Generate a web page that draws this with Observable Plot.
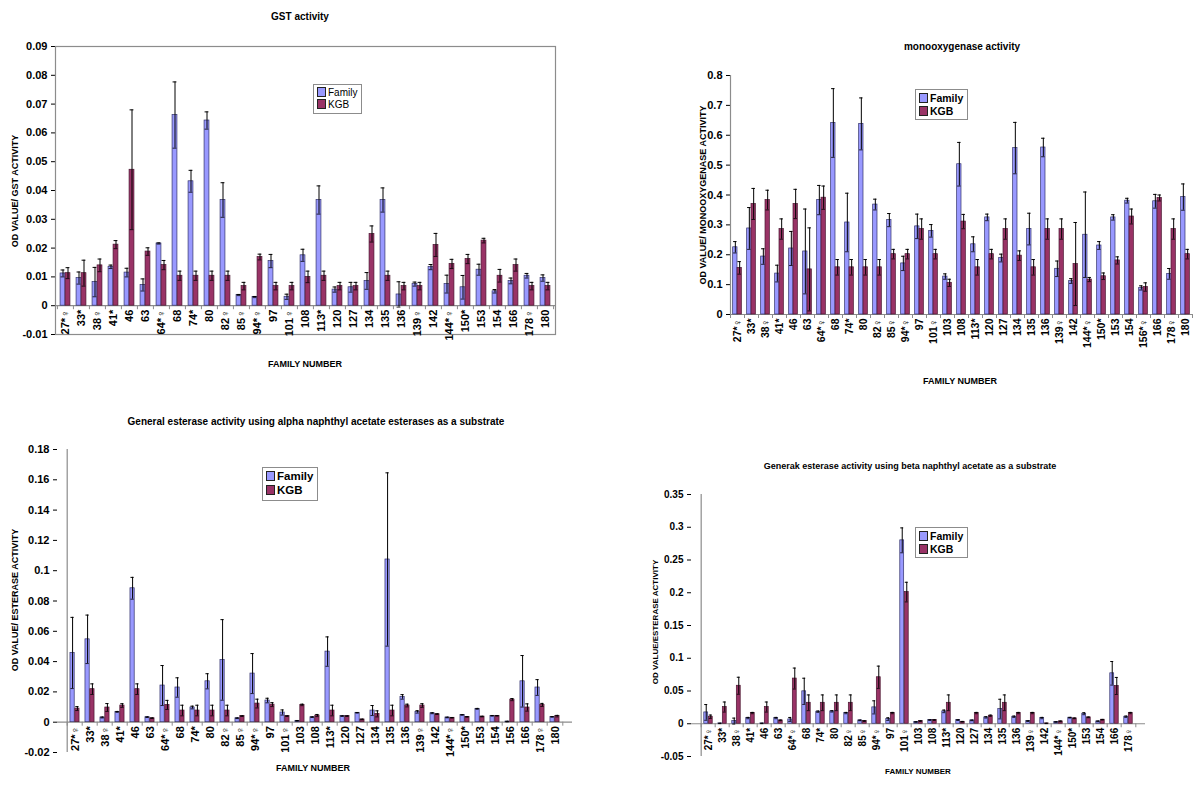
<!DOCTYPE html>
<html><head><meta charset="utf-8">
<script src="https://cdn.jsdelivr.net/npm/d3@7"></script>
<script src="https://cdn.jsdelivr.net/npm/@observablehq/plot@0.6"></script>
<style>
body{margin:0;background:#fff;font-family:"Liberation Sans",Arial,sans-serif;color:#000}
#root{position:relative;width:1200px;height:790px;overflow:hidden;background:#fff}
.abs{position:absolute;white-space:nowrap}
.title{font-weight:bold;transform:translate(-50%,-50%)}
.ytitle{font-weight:bold;transform:translate(-50%,-50%) rotate(-90deg)}
.xtitle{font-weight:bold;transform:translate(-50%,-50%)}
.legend{border:1px solid #8c8c8c;background:#fff;padding:2px 4px 2px 3px;line-height:1.2}
.sw{display:inline-block;width:7px;height:8px;border:1px solid #222;margin-right:2px;vertical-align:-1px}
svg{position:absolute}
</style></head>
<body><div id="root"></div>
<script>
// ---------- GST activity ----------
const gstCategories = ["27*♀","33*","38♀","41*","46","63","64*♀","68","74*","80","82♀","85♀","94*♀","97","101♀","108","113*","120","127","134","135","136","139♀","142","144*♀","150*","153","154","166","178♀","180"];
const gstFamily    = [0.0112,0.0096,0.0082,0.0135,0.0115,0.0072,0.0216,0.0662,0.0432,0.0643,0.0367,0.0037,0.0030,0.0155,0.0031,0.0175,0.0367,0.0056,0.0064,0.0086,0.0367,0.0039,0.0075,0.0134,0.0075,0.0064,0.0125,0.0050,0.0086,0.0104,0.0096];
const gstFamilyErr = [0.0012,0.0021,0.0051,0.0006,0.0015,0.0021,0.0002,0.0115,0.0038,0.0030,0.0060,0.0002,0.0002,0.0023,0.0009,0.0021,0.0049,0.0009,0.0017,0.0029,0.0042,0.0044,0.0007,0.0009,0.0031,0.0041,0.0019,0.0006,0.0010,0.0008,0.0011];
const gstKgb       = [0.0113,0.0113,0.0140,0.0212,0.0472,0.0188,0.0141,0.0104,0.0104,0.0104,0.0104,0.0068,0.0169,0.0068,0.0068,0.0100,0.0104,0.0068,0.0068,0.0249,0.0104,0.0068,0.0068,0.0211,0.0145,0.0162,0.0226,0.0104,0.0141,0.0068,0.0068];
const gstKgbErr    = [0.0019,0.0045,0.0022,0.0014,0.0208,0.0013,0.0016,0.0016,0.0016,0.0016,0.0016,0.0013,0.0010,0.0013,0.0013,0.0020,0.0016,0.0013,0.0013,0.0028,0.0016,0.0013,0.0013,0.0040,0.0016,0.0016,0.0008,0.0022,0.0021,0.0013,0.0013];
const gstTicks = [-0.01,0,0.01,0.02,0.03,0.04,0.05,0.06,0.07,0.08,0.09];

// ---------- monooxygenase activity ----------
const monoCategories = ["27*♀","33*","38♀","41*","46","63","64*♀","68","74*","80","82♀","85♀","94*♀","97","101♀","103","108","113*","120","127","134","135","136","139♀","142","144*♀","150*","153","154","156*♀","166","178♀","180"];
const monoFamily    = [0.225,0.288,0.194,0.137,0.221,0.211,0.383,0.641,0.308,0.638,0.368,0.316,0.171,0.295,0.280,0.127,0.503,0.235,0.325,0.189,0.557,0.286,0.559,0.153,0.112,0.267,0.231,0.325,0.381,0.089,0.379,0.136,0.393];
const monoFamilyErr = [0.019,0.070,0.026,0.028,0.057,0.142,0.049,0.115,0.098,0.087,0.018,0.022,0.024,0.041,0.021,0.009,0.073,0.025,0.011,0.013,0.086,0.053,0.031,0.026,0.008,0.143,0.013,0.009,0.008,0.007,0.023,0.018,0.044];
const monoKgb       = [0.156,0.370,0.383,0.286,0.370,0.151,0.391,0.158,0.158,0.158,0.158,0.202,0.202,0.286,0.202,0.106,0.311,0.158,0.202,0.286,0.197,0.158,0.286,0.286,0.169,0.117,0.128,0.181,0.328,0.092,0.390,0.286,0.202];
const monoKgbErr    = [0.021,0.052,0.033,0.034,0.049,0.139,0.039,0.026,0.026,0.026,0.026,0.016,0.016,0.034,0.016,0.012,0.024,0.026,0.016,0.034,0.016,0.026,0.034,0.034,0.139,0.007,0.011,0.012,0.025,0.014,0.010,0.034,0.016];
const monoTicks = [0,0.1,0.2,0.3,0.4,0.5,0.6,0.7,0.8];

// ---------- alpha naphthyl acetate esterase ----------
const alphaCategories = ["27*♀","33*","38♀","41*","46","63","64*♀","68","74*","80","82♀","85♀","94*♀","97","101♀","103","108","113*","120","127","134","135","136","139♀","142","144*♀","150*","153","154","156","166","178♀","180"];
const alphaFamily    = [0.0457,0.0547,0.0031,0.0068,0.0884,0.0033,0.0242,0.0229,0.0097,0.0270,0.0411,0.0026,0.0321,0.0143,0.0064,0.0009,0.0033,0.0466,0.0040,0.0062,0.0077,0.1074,0.0167,0.0068,0.0059,0.0031,0.0048,0.0088,0.0042,0.0004,0.0270,0.0229,0.0035];
const alphaFamilyErr = [0.0235,0.0160,0.0003,0.0003,0.0072,0.0002,0.0132,0.0064,0.0009,0.0050,0.0266,0.0002,0.0132,0.0015,0.0017,0.0002,0.0002,0.0097,0.0002,0.0002,0.0033,0.0572,0.0015,0.0008,0.0003,0.0002,0.0002,0.0003,0.0002,0.0002,0.0170,0.0052,0.0002];
const alphaKgb       = [0.0090,0.0218,0.0097,0.0110,0.0218,0.0026,0.0114,0.0077,0.0077,0.0077,0.0077,0.0040,0.0123,0.0116,0.0040,0.0114,0.0044,0.0077,0.0040,0.0018,0.0055,0.0077,0.0110,0.0110,0.0053,0.0029,0.0035,0.0037,0.0042,0.0149,0.0097,0.0114,0.0040];
const alphaKgbErr    = [0.0013,0.0035,0.0026,0.0012,0.0035,0.0002,0.0030,0.0035,0.0035,0.0035,0.0035,0.0002,0.0029,0.0013,0.0002,0.0005,0.0007,0.0035,0.0002,0.0002,0.0020,0.0035,0.0009,0.0012,0.0002,0.0002,0.0002,0.0002,0.0002,0.0007,0.0024,0.0010,0.0005];
const alphaTicks = [-0.02,0,0.02,0.04,0.06,0.08,0.1,0.12,0.14,0.16,0.18];

// ---------- beta naphthyl acetate esterase ----------
const betaCategories = ["27*♀","33*","38♀","41*","46","63","64*♀","68","74*","80","82♀","85♀","94*♀","97","101♀","103","108","113*","120","127","134","135","136","139♀","142","144*♀","150*","153","154","166","178♀"];
const betaFamily    = [0.0173,0.0005,0.0040,0.0087,0.0005,0.0087,0.0066,0.0495,0.0184,0.0189,0.0163,0.0051,0.0250,0.0071,0.280,0.0026,0.0056,0.0189,0.0056,0.0051,0.0097,0.0224,0.0107,0.0040,0.0087,0.0026,0.0092,0.0153,0.0036,0.0770,0.0107];
const betaFamilyErr = [0.012,0.0003,0.0046,0.001,0.0003,0.001,0.003,0.020,0.001,0.001,0.001,0.0005,0.010,0.002,0.019,0.0005,0.0005,0.002,0.0005,0.0005,0.001,0.015,0.001,0.0005,0.001,0.0005,0.0005,0.0015,0.0005,0.018,0.001];
const betaKgb       = [0.0107,0.0255,0.0580,0.0163,0.0255,0.0051,0.0690,0.0320,0.0320,0.0320,0.0320,0.0040,0.0710,0.0163,0.201,0.0040,0.0056,0.0320,0.0030,0.0163,0.0122,0.0320,0.0163,0.0163,0.0005,0.0036,0.0082,0.0097,0.0061,0.0577,0.0163];
const betaKgbErr    = [0.0026,0.0077,0.013,0.001,0.0077,0.0005,0.016,0.012,0.012,0.012,0.012,0.0005,0.017,0.001,0.015,0.0005,0.0005,0.012,0.0005,0.001,0.001,0.012,0.001,0.001,0.0003,0.0005,0.0005,0.0005,0.0005,0.013,0.001];
const betaTicks = [-0.05,0,0.05,0.1,0.15,0.2,0.25,0.3,0.35];

const seriesNames = ["Family","KGB"];
const seriesColors = ["#9999ff","#993366"];
const seriesStrokes = ["#33336b","#4a1630"];

const panels = [
  {title:"GST activity", ytitle:"OD VALUE/ GST ACTIVITY",
   cats:gstCategories, fam:gstFamily, famErr:gstFamilyErr, kgb:gstKgb, kgbErr:gstKgbErr,
   ticks:gstTicks, domain:[-0.01,0.09], frame:true,
   svg:{left:0, top:30, width:600, height:360}, margin:{l:55, r:45, t:16, b:56},
   titlePos:[300,16], ytitlePos:[15,191], xtitlePos:[305,364], legendPos:[313,84],
   fs:{title:10, ytitle:9, xtitle:9, tick:11, cat:11, legend:10}, legendBold:false},
  {title:"monooxygenase activity", ytitle:"OD VALUE/ MONOOXYGENASE ACTIVITY",
   cats:monoCategories, fam:monoFamily, famErr:monoFamilyErr, kgb:monoKgb, kgbErr:monoKgbErr,
   ticks:monoTicks, domain:[0,0.8], frame:false,
   svg:{left:600, top:60, width:600, height:330}, margin:{l:130, r:8, t:15, b:76},
   titlePos:[962,46], ytitlePos:[703,195], xtitlePos:[960,381], legendPos:[915,89],
   fs:{title:10, ytitle:9, xtitle:9, tick:11, cat:10.5, legend:10.5}, legendBold:true},
  {title:"General esterase activity using alpha naphthyl acetate esterases as a substrate", ytitle:"OD VALUE/ ESTERASE ACTIVITY",
   cats:alphaCategories, fam:alphaFamily, famErr:alphaFamilyErr, kgb:alphaKgb, kgbErr:alphaKgbErr,
   ticks:alphaTicks, domain:[-0.02,0.18], frame:false,
   svg:{left:0, top:435, width:600, height:340}, margin:{l:57, r:28, t:14, b:23},
   titlePos:[316,421], ytitlePos:[15,600], xtitlePos:[313,768], legendPos:[262,467],
   fs:{title:10, ytitle:9, xtitle:9, tick:11, cat:11, legend:11.5}, legendBold:true},
  {title:"Generak esterase activity using beta naphthyl acetate as a substrate", ytitle:"OD VALUE/ESTERASE ACTIVITY",
   cats:betaCategories, fam:betaFamily, famErr:betaFamilyErr, kgb:betaKgb, kgbErr:betaKgbErr,
   ticks:betaTicks, domain:[-0.05,0.35], frame:false,
   svg:{left:600, top:480, width:600, height:300}, margin:{l:91, r:55, t:14, b:24},
   titlePos:[910,466], ytitlePos:[655,622], xtitlePos:[918,771], legendPos:[915,527],
   fs:{title:9, ytitle:8, xtitle:8, tick:10, cat:10, legend:10.5}, legendBold:true}
];

const fmt = d => d === 0 ? "0" : String(+d.toFixed(3));
const root = document.getElementById("root");

function addDiv(cls, text, x, y, fs) {
  const el = document.createElement("div");
  el.className = "abs " + cls;
  el.textContent = text;
  el.style.left = x + "px"; el.style.top = y + "px"; el.style.fontSize = fs + "px";
  root.appendChild(el);
  return el;
}

for (const p of panels) {
  const W = p.svg.width, H = p.svg.height, m = p.margin;
  const plotW = W - m.l - m.r, plotH = H - m.t - m.b;
  const bw = plotW / p.cats.length;
  const pair = 0.62;           // fraction of band occupied by the two bars
  const half = bw * pair / 2;  // width of one bar
  const edge = bw * (0.5 - pair / 2);
  const off = half / 2;        // bar centre offset from band centre
  const capInset = (bw - half * 0.8) / 2;
  const perPx = (p.domain[1] - p.domain[0]) / plotH;

  const sets = [
    {rows: p.cats.map((c,i)=>({cat:c, v:p.fam[i], e:p.famErr[i]})), insL: edge, insR: bw/2, dx: -off, k:0},
    {rows: p.cats.map((c,i)=>({cat:c, v:p.kgb[i], e:p.kgbErr[i]})), insL: bw/2, insR: edge, dx: off, k:1}
  ];

  const marks = [];
  if (p.frame) marks.push(Plot.frame({stroke:"#8c8c8c", strokeWidth:1.2}));
  else marks.push(Plot.ruleX([p.cats[0]], {x:d=>d, dx:-bw/2, y1:()=>p.domain[0], y2:()=>p.domain[1], stroke:"#8c8c8c", strokeWidth:1.2}));
  marks.push(Plot.ruleY([0], {stroke:"#8c8c8c", strokeWidth:1.2}));
  // category boundary ticks under the zero line
  marks.push(Plot.ruleX(p.cats, {x:d=>d, dx:-bw/2, y1:()=>0, y2:()=>-4*perPx, stroke:"#8c8c8c"}));
  marks.push(Plot.ruleX([p.cats[p.cats.length-1]], {x:d=>d, dx:bw/2, y1:()=>0, y2:()=>-4*perPx, stroke:"#8c8c8c"}));
  for (const s of sets) {
    marks.push(Plot.barY(s.rows, {x:"cat", y:"v", fill:seriesColors[s.k], stroke:seriesStrokes[s.k], strokeWidth:0.7, insetLeft:s.insL, insetRight:s.insR}));
    marks.push(Plot.ruleX(s.rows, {x:"cat", y1:d=>d.v - d.e, y2:d=>d.v + d.e, dx:s.dx, stroke:"#000", strokeWidth:1}));
    marks.push(Plot.tickY(s.rows, {x:"cat", y:d=>d.v + d.e, dx:s.dx, inset:capInset, stroke:"#000", strokeWidth:1}));
    marks.push(Plot.tickY(s.rows, {x:"cat", y:d=>d.v - d.e, dx:s.dx, inset:capInset, stroke:"#000", strokeWidth:0.8}));
  }
  marks.push(Plot.text(p.cats, {x:d=>d, y:()=>0, text:d=>d, rotate:-90, textAnchor:"end", dy:4, fontSize:p.fs.cat, fontWeight:"bold", fill:"#000"}));

  const svg = Plot.plot({
    width: W, height: H,
    marginLeft: m.l, marginRight: m.r, marginTop: m.t, marginBottom: m.b,
    x: {type:"band", domain:p.cats, padding:0, axis:null},
    y: {domain:p.domain, ticks:p.ticks, tickFormat:fmt, tickSize:4, tickPadding:4, label:null},
    style: {fontFamily:'"Liberation Sans", Arial, sans-serif', fontSize:p.fs.tick+"px", fontWeight:"bold", color:"#000", background:"transparent", overflow:"visible"},
    marks
  });
  svg.style.left = p.svg.left + "px";
  svg.style.top = p.svg.top + "px";
  root.appendChild(svg);

  addDiv("title", p.title, p.titlePos[0], p.titlePos[1], p.fs.title);
  addDiv("ytitle", p.ytitle, p.ytitlePos[0], p.ytitlePos[1], p.fs.ytitle);
  addDiv("xtitle", "FAMILY NUMBER", p.xtitlePos[0], p.xtitlePos[1], p.fs.xtitle);

  const lg = document.createElement("div");
  lg.className = "abs legend";
  lg.style.left = p.legendPos[0] + "px"; lg.style.top = p.legendPos[1] + "px";
  lg.style.fontSize = p.fs.legend + "px";
  lg.style.fontWeight = p.legendBold ? "bold" : "normal";
  seriesNames.forEach((n, i) => {
    const row = document.createElement("div");
    const sw = document.createElement("span");
    sw.className = "sw"; sw.style.background = seriesColors[i];
    row.appendChild(sw);
    row.appendChild(document.createTextNode(n));
    lg.appendChild(row);
  });
  root.appendChild(lg);
}
</script>
</body></html>
